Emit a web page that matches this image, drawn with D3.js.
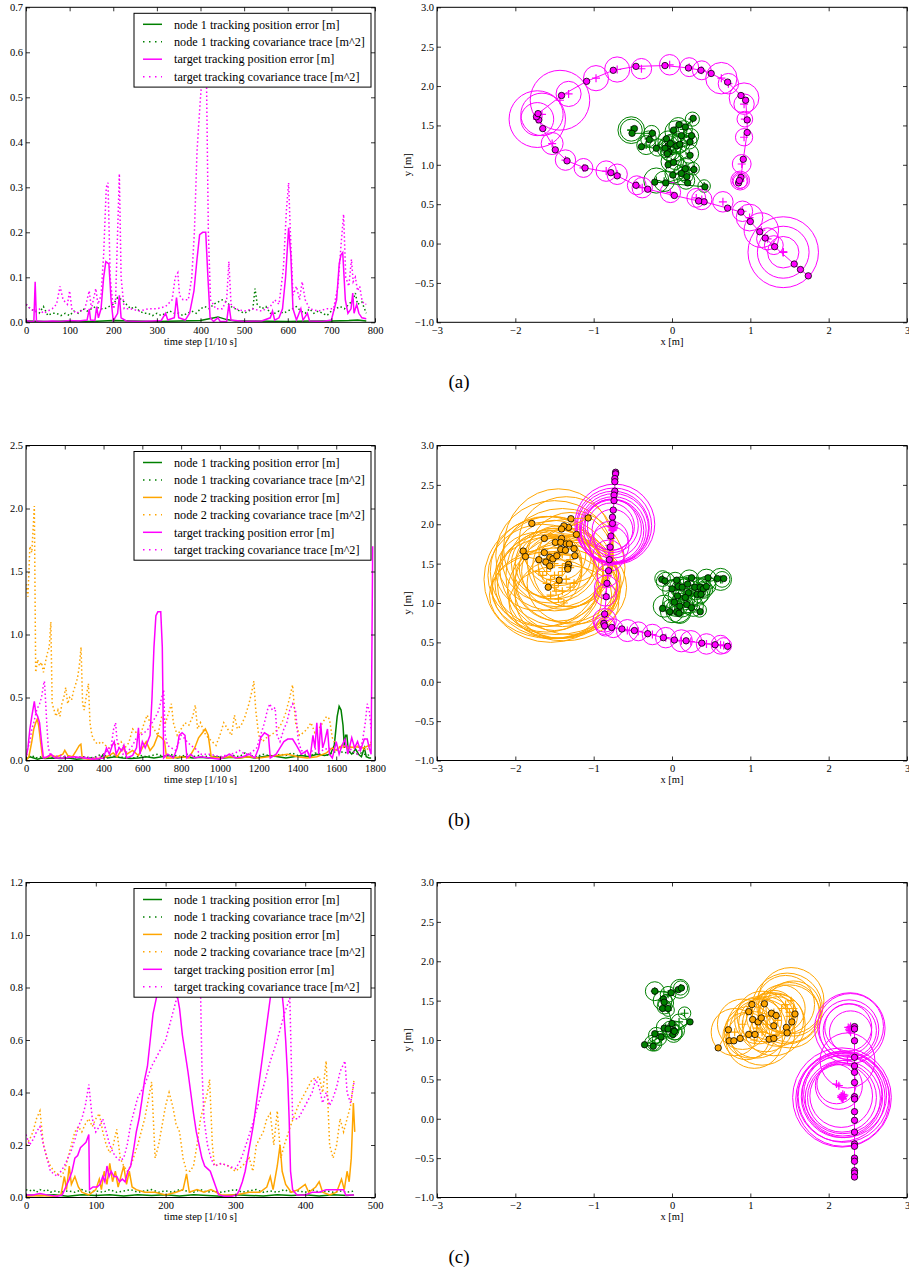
<!DOCTYPE html>
<html>
<head>
<meta charset="utf-8" />
<script src="https://cdn.jsdelivr.net/npm/d3@7/dist/d3.min.js"></script>
<style>
html, body { margin: 0; padding: 0; background: #fff; }
svg { display: block; }
.tick text { font-family: "Liberation Serif", "Times New Roman", serif; font-size: 10.5px; fill: #000; }
.tick line { stroke: #000; stroke-width: 0.8; }
</style>
</head>
<body>
<div id="fig"></div>
<script>
// ---------- time series, [time step, value] ----------
var aNodeErr = [[0,0.003],[50,0.002],[100,0.003],[150,0.002],[200,0.004],[250,0.003],[300,0.002],[350,0.003],[400,0.004],[420,0.008],[440,0.012],[460,0.006],[480,0.003],[520,0.003],[600,0.002],[650,0.003],[700,0.003],[740,0.004],[760,0.005],[780,0.003]];
var aNodeCov = [[0,0.04],[10,0.03],[20,0.025],[30,0.02],[40,0.035],[50,0.015],[60,0.02],[70,0.02],[80,0.015],[90,0.02],[100,0.015],[110,0.025],[120,0.02],[130,0.03],[140,0.025],[150,0.03],[160,0.035],[170,0.03],[180,0.03],[190,0.035],[200,0.04],[210,0.055],[220,0.05],[230,0.04],[240,0.03],[250,0.035],[260,0.025],[270,0.02],[280,0.02],[290,0.015],[300,0.02],[310,0.015],[320,0.02],[330,0.025],[340,0.02],[350,0.02],[360,0.015],[370,0.02],[380,0.025],[390,0.02],[400,0.03],[410,0.035],[420,0.03],[430,0.04],[440,0.045],[450,0.05],[460,0.045],[470,0.035],[480,0.03],[490,0.025],[500,0.02],[510,0.025],[520,0.03],[525,0.075],[530,0.04],[540,0.03],[550,0.035],[560,0.02],[570,0.02],[580,0.025],[590,0.02],[600,0.025],[610,0.03],[620,0.035],[630,0.025],[640,0.02],[650,0.03],[660,0.02],[670,0.025],[680,0.02],[690,0.015],[700,0.025],[710,0.03],[720,0.035],[730,0.03],[740,0.04],[750,0.05],[755,0.065],[760,0.04],[770,0.045],[780,0.02]];
var aTargetErr = [[0,0.004],[10,0.002],[18,0.002],[21,0.09],[24,0.003],[40,0.002],[60,0.003],[80,0.002],[100,0.004],[120,0.003],[140,0.005],[145,0.03],[148,0.005],[158,0.004],[162,0.035],[166,0.01],[172,0.03],[178,0.1],[183,0.135],[190,0.13],[195,0.05],[200,0.003],[210,0.02],[214,0.06],[218,0.01],[230,0.003],[260,0.002],[290,0.003],[310,0.004],[320,0.02],[325,0.005],[340,0.01],[345,0.055],[350,0.01],[365,0.005],[375,0.02],[385,0.07],[392,0.14],[398,0.195],[405,0.2],[412,0.2],[417,0.1],[422,0.01],[430,0.002],[440,0.01],[445,0.002],[460,0.002],[465,0.04],[470,0.005],[500,0.002],[540,0.003],[560,0.01],[565,0.025],[570,0.005],[580,0.01],[588,0.03],[595,0.1],[602,0.21],[607,0.15],[612,0.03],[620,0.005],[630,0.03],[635,0.005],[645,0.02],[650,0.003],[680,0.002],[700,0.005],[712,0.05],[718,0.13],[722,0.15],[726,0.155],[732,0.05],[738,0.02],[745,0.03],[749,0.065],[752,0.02],[758,0.04],[763,0.02],[770,0.01],[780,0.008]];
var aTargetCov = [[0,0.04],[10,0.03],[20,0.025],[30,0.03],[40,0.02],[50,0.025],[60,0.03],[70,0.04],[78,0.08],[85,0.05],[95,0.04],[100,0.07],[105,0.03],[115,0.02],[125,0.025],[135,0.03],[145,0.07],[150,0.03],[160,0.075],[165,0.04],[172,0.06],[178,0.15],[184,0.3],[188,0.31],[193,0.1],[200,0.03],[205,0.04],[210,0.2],[214,0.33],[218,0.1],[225,0.03],[240,0.03],[260,0.025],[280,0.03],[300,0.03],[320,0.035],[335,0.05],[342,0.1],[348,0.11],[352,0.06],[360,0.05],[372,0.05],[380,0.1],[386,0.2],[392,0.38],[400,0.5],[408,0.6],[413,0.6],[418,0.2],[423,0.05],[435,0.03],[450,0.03],[460,0.05],[465,0.135],[470,0.04],[480,0.03],[500,0.025],[520,0.03],[540,0.025],[560,0.035],[570,0.05],[580,0.04],[590,0.12],[597,0.25],[602,0.31],[606,0.2],[612,0.06],[620,0.08],[627,0.05],[633,0.09],[640,0.05],[650,0.03],[670,0.025],[690,0.03],[705,0.03],[715,0.08],[722,0.17],[728,0.24],[733,0.1],[740,0.08],[746,0.14],[750,0.09],[755,0.1],[760,0.07],[765,0.08],[770,0.05],[775,0.04],[780,0.04]];

var bNodeErr = [[0,0.01],[20,0.03],[40,0.02],[60,0.01],[80,0.02],[100,0.015],[140,0.02],[180,0.015],[220,0.02],[260,0.01],[300,0.015],[340,0.02],[380,0.01],[400,0.05],[420,0.02],[460,0.03],[500,0.02],[540,0.015],[580,0.02],[620,0.03],[660,0.02],[700,0.03],[740,0.04],[780,0.02],[820,0.03],[860,0.02],[900,0.025],[940,0.02],[980,0.03],[1020,0.02],[1060,0.025],[1100,0.02],[1140,0.03],[1180,0.02],[1220,0.03],[1260,0.04],[1300,0.03],[1340,0.02],[1380,0.03],[1420,0.04],[1460,0.03],[1500,0.05],[1540,0.04],[1570,0.05],[1590,0.12],[1605,0.35],[1615,0.43],[1625,0.4],[1635,0.28],[1642,0.1],[1648,0.2],[1655,0.2],[1662,0.08],[1680,0.05],[1700,0.09],[1715,0.05],[1730,0.03],[1745,0.1],[1755,0.03],[1770,0.02],[1780,0.02]];
var bNodeCov = [[0,0.05],[15,0.03],[30,0.04],[50,0.02],[70,0.03],[90,0.02],[120,0.03],[150,0.02],[180,0.025],[210,0.03],[240,0.02],[270,0.025],[300,0.03],[330,0.02],[360,0.03],[390,0.05],[410,0.03],[440,0.04],[470,0.03],[500,0.025],[530,0.03],[560,0.02],[590,0.04],[620,0.03],[650,0.04],[680,0.05],[710,0.03],[740,0.05],[770,0.04],[800,0.03],[830,0.05],[860,0.03],[890,0.04],[920,0.03],[950,0.04],[980,0.03],[1010,0.025],[1040,0.03],[1070,0.04],[1100,0.03],[1130,0.06],[1160,0.04],[1190,0.03],[1220,0.05],[1250,0.04],[1280,0.03],[1310,0.05],[1340,0.04],[1370,0.06],[1400,0.04],[1430,0.05],[1460,0.03],[1490,0.06],[1520,0.05],[1550,0.04],[1580,0.06],[1610,0.08],[1640,0.06],[1670,0.07],[1700,0.05],[1730,0.06],[1760,0.04],[1780,0.05]];
var bNode2Err = [[0,0.0],[15,0.03],[30,0.15],[40,0.25],[50,0.3],[58,0.33],[65,0.28],[75,0.15],[85,0.03],[100,0.02],[130,0.04],[160,0.03],[190,0.05],[200,0.08],[215,0.04],[240,0.03],[260,0.08],[275,0.12],[283,0.13],[290,0.02],[320,0.01],[360,0.015],[400,0.02],[430,0.04],[450,0.06],[470,0.03],[500,0.1],[520,0.05],[550,0.08],[580,0.04],[600,0.1],[620,0.15],[640,0.08],[660,0.12],[680,0.2],[700,0.18],[715,0.15],[725,0.02],[760,0.02],[800,0.03],[840,0.02],[870,0.1],[890,0.18],[910,0.22],[925,0.25],[940,0.2],[955,0.03],[1000,0.02],[1050,0.03],[1100,0.02],[1150,0.03],[1200,0.02],[1250,0.03],[1300,0.04],[1350,0.05],[1400,0.03],[1450,0.02],[1500,0.03],[1550,0.06],[1580,0.1],[1600,0.08],[1630,0.12],[1660,0.1],[1700,0.11],[1740,0.1],[1770,0.12],[1780,0.13]];
var bNode2Cov = [[0,1.4],[10,1.3],[20,1.7],[30,1.65],[43,2.02],[50,0.7],[60,0.8],[70,0.75],[80,0.78],[90,0.7],[100,0.78],[110,0.85],[120,0.9],[128,1.1],[135,0.45],[145,0.4],[155,0.35],[165,0.4],[175,0.35],[185,0.45],[195,0.5],[205,0.58],[215,0.45],[225,0.5],[235,0.48],[245,0.55],[255,0.6],[265,0.65],[275,0.75],[284,0.9],[292,0.45],[300,0.4],[310,0.5],[322,0.61],[330,0.3],[340,0.2],[355,0.15],[370,0.13],[390,0.15],[410,0.12],[430,0.1],[450,0.13],[470,0.12],[490,0.15],[510,0.1],[530,0.14],[550,0.25],[570,0.22],[590,0.2],[610,0.3],[625,0.36],[640,0.3],[660,0.25],[680,0.2],[700,0.35],[720,0.3],[740,0.4],[750,0.45],[760,0.3],[780,0.2],[800,0.25],[820,0.3],[840,0.28],[860,0.35],[873,0.44],[885,0.25],[900,0.3],[920,0.22],[940,0.18],[960,0.15],[980,0.12],[1000,0.2],[1020,0.3],[1040,0.25],[1060,0.2],[1075,0.36],[1090,0.25],[1110,0.28],[1130,0.35],[1150,0.45],[1165,0.55],[1175,0.63],[1185,0.4],[1200,0.2],[1220,0.15],[1240,0.18],[1260,0.2],[1280,0.22],[1300,0.25],[1320,0.3],[1340,0.38],[1360,0.5],[1375,0.6],[1390,0.3],[1410,0.2],[1430,0.22],[1450,0.25],[1470,0.3],[1490,0.22],[1510,0.25],[1530,0.3],[1550,0.35],[1565,0.33],[1580,0.18],[1600,0.12],[1630,0.1],[1660,0.12],[1690,0.1],[1720,0.12],[1750,0.08],[1770,0.1],[1780,0.15]];
var bTargetErr = [[0,0.02],[10,0.1],[20,0.25],[30,0.35],[43,0.47],[50,0.38],[60,0.35],[70,0.3],[80,0.15],[90,0.02],[110,0.03],[130,0.05],[150,0.02],[200,0.02],[250,0.03],[300,0.02],[350,0.01],[400,0.02],[415,0.1],[430,0.05],[445,0.12],[455,0.15],[465,0.05],[480,0.1],[495,0.08],[505,0.12],[520,0.02],[550,0.04],[570,0.1],[580,0.26],[588,0.05],[600,0.15],[615,0.1],[630,0.16],[640,0.2],[650,0.5],[660,0.9],[670,1.15],[680,1.18],[695,1.18],[703,0.9],[710,0.02],[730,0.05],[760,0.02],[780,0.1],[790,0.2],[805,0.22],[820,0.2],[830,0.02],[850,0.05],[870,0.02],[900,0.03],[950,0.02],[1000,0.01],[1050,0.05],[1080,0.02],[1120,0.03],[1150,0.05],[1180,0.02],[1200,0.1],[1210,0.18],[1230,0.22],[1250,0.2],[1260,0.02],[1290,0.05],[1310,0.1],[1330,0.15],[1350,0.17],[1375,0.17],[1395,0.12],[1420,0.05],[1450,0.08],[1465,0.02],[1480,0.2],[1490,0.1],[1500,0.3],[1510,0.05],[1520,0.3],[1530,0.1],[1540,0.15],[1555,0.25],[1565,0.05],[1580,0.02],[1600,0.15],[1615,0.05],[1630,0.12],[1645,0.17],[1660,0.05],[1680,0.18],[1695,0.1],[1710,0.15],[1725,0.08],[1745,0.17],[1760,0.17],[1770,0.1],[1780,0.05],[1788,1.7]];
var bTargetCov = [[0,0.05],[10,0.1],[20,0.15],[30,0.25],[40,0.3],[55,0.4],[70,0.45],[80,0.5],[90,0.6],[95,0.63],[100,0.5],[107,0.3],[115,0.1],[125,0.05],[140,0.03],[180,0.04],[220,0.03],[260,0.02],[300,0.03],[340,0.02],[380,0.03],[400,0.05],[420,0.08],[440,0.12],[452,0.25],[462,0.3],[470,0.15],[480,0.1],[500,0.05],[530,0.08],[550,0.12],[570,0.18],[590,0.2],[610,0.22],[630,0.25],[650,0.3],[670,0.35],[685,0.4],[700,0.5],[710,0.56],[718,0.2],[730,0.12],[750,0.1],[770,0.08],[790,0.15],[800,0.2],[815,0.18],[830,0.15],[850,0.12],[870,0.1],[900,0.05],[950,0.05],[1000,0.03],[1050,0.05],[1080,0.06],[1100,0.08],[1130,0.05],[1160,0.06],[1190,0.1],[1210,0.2],[1230,0.3],[1245,0.4],[1258,0.45],[1270,0.4],[1285,0.42],[1295,0.2],[1310,0.15],[1330,0.25],[1345,0.3],[1360,0.4],[1375,0.45],[1390,0.4],[1405,0.15],[1420,0.08],[1450,0.05],[1480,0.08],[1500,0.1],[1530,0.08],[1560,0.1],[1590,0.08],[1620,0.1],[1650,0.12],[1680,0.08],[1710,0.05],[1735,0.15],[1750,0.3],[1760,0.45],[1770,0.4],[1780,0.25]];

var cNodeErr = [[0,0.01],[20,0.008],[40,0.01],[60,0.005],[80,0.01],[100,0.008],[120,0.01],[140,0.006],[160,0.01],[180,0.008],[200,0.01],[220,0.006],[240,0.01],[260,0.008],[280,0.005],[300,0.01],[320,0.008],[340,0.006],[360,0.01],[380,0.008],[400,0.01],[420,0.006],[440,0.01],[460,0.008],[470,0.01]];
var cNodeCov = [[0,0.03],[5,0.025],[10,0.03],[15,0.02],[20,0.03],[25,0.025],[30,0.03],[35,0.02],[40,0.025],[50,0.02],[60,0.025],[70,0.02],[80,0.03],[90,0.02],[100,0.025],[110,0.02],[120,0.03],[130,0.02],[140,0.025],[150,0.03],[160,0.02],[170,0.025],[180,0.03],[190,0.02],[200,0.025],[210,0.02],[220,0.03],[230,0.025],[240,0.02],[250,0.03],[260,0.02],[270,0.025],[280,0.02],[290,0.025],[300,0.03],[310,0.02],[320,0.025],[330,0.03],[340,0.02],[350,0.025],[360,0.02],[370,0.03],[380,0.02],[390,0.025],[400,0.02],[410,0.03],[420,0.02],[430,0.025],[440,0.02],[450,0.025],[460,0.02],[470,0.025]];
var cNode2Err = [[0,0.005],[20,0.008],[40,0.005],[50,0.01],[55,0.08],[58,0.03],[62,0.12],[65,0.05],[70,0.08],[75,0.04],[80,0.02],[90,0.01],[100,0.03],[105,0.07],[108,0.03],[112,0.1],[116,0.05],[120,0.13],[124,0.06],[128,0.1],[132,0.04],[136,0.08],[140,0.12],[144,0.05],[148,0.1],[152,0.04],[158,0.03],[170,0.02],[185,0.02],[200,0.01],[215,0.02],[225,0.03],[230,0.09],[234,0.02],[245,0.03],[255,0.02],[265,0.03],[280,0.01],[300,0.01],[320,0.02],[335,0.02],[345,0.04],[350,0.08],[354,0.03],[360,0.12],[364,0.2],[367,0.1],[372,0.05],[380,0.02],[390,0.03],[400,0.05],[405,0.02],[415,0.04],[420,0.06],[425,0.02],[435,0.01],[445,0.02],[452,0.07],[456,0.03],[460,0.1],[463,0.06],[466,0.15],[469,0.36],[471,0.25]];
var cNode2Cov = [[0,0.2],[5,0.22],[10,0.25],[15,0.3],[20,0.33],[25,0.2],[30,0.15],[35,0.12],[40,0.1],[45,0.09],[50,0.08],[55,0.1],[60,0.15],[65,0.2],[70,0.25],[75,0.27],[80,0.25],[85,0.28],[90,0.3],[95,0.27],[100,0.3],[105,0.32],[110,0.25],[115,0.2],[120,0.17],[125,0.2],[130,0.26],[135,0.15],[140,0.12],[145,0.1],[150,0.12],[160,0.2],[170,0.3],[180,0.44],[185,0.15],[190,0.2],[200,0.35],[205,0.4],[210,0.35],[215,0.28],[220,0.25],[225,0.15],[230,0.1],[235,0.1],[240,0.12],[245,0.2],[250,0.3],[255,0.35],[260,0.4],[263,0.45],[267,0.2],[270,0.12],[280,0.13],[290,0.12],[300,0.1],[310,0.12],[320,0.15],[325,0.1],[330,0.2],[340,0.25],[345,0.3],[350,0.32],[355,0.2],[360,0.33],[365,0.15],[370,0.2],[380,0.28],[390,0.35],[400,0.4],[410,0.45],[420,0.46],[425,0.4],[430,0.52],[435,0.2],[440,0.15],[445,0.2],[450,0.3],[455,0.25],[460,0.3],[465,0.35],[470,0.45]];
var cTargetErr = [[0,0.01],[10,0.01],[20,0.015],[30,0.01],[45,0.005],[52,0.01],[57,0.04],[62,0.07],[66,0.1],[70,0.15],[74,0.16],[78,0.19],[82,0.2],[86,0.21],[90,0.24],[91,0.03],[96,0.04],[102,0.04],[106,0.05],[110,0.08],[113,0.06],[116,0.12],[119,0.08],[122,0.1],[126,0.08],[130,0.08],[134,0.06],[138,0.07],[142,0.06],[146,0.1],[150,0.12],[154,0.18],[158,0.25],[162,0.3],[166,0.37],[170,0.45],[174,0.5],[178,0.6],[182,0.7],[186,0.75],[190,0.8],[195,0.9],[205,0.92],[212,0.85],[216,0.78],[220,0.72],[224,0.62],[228,0.55],[232,0.48],[236,0.4],[240,0.32],[244,0.25],[248,0.2],[252,0.15],[256,0.12],[260,0.11],[264,0.1],[268,0.07],[272,0.04],[276,0.01],[285,0.005],[295,0.005],[302,0.01],[306,0.03],[310,0.06],[314,0.1],[318,0.16],[322,0.22],[326,0.28],[330,0.36],[334,0.44],[338,0.52],[342,0.6],[346,0.68],[350,0.76],[354,0.85],[362,0.88],[366,0.8],[369,0.72],[372,0.6],[375,0.45],[377,0.3],[379,0.1],[382,0.03],[388,0.01],[400,0.01],[410,0.02],[420,0.02],[430,0.03],[440,0.03],[450,0.03],[455,0.03],[458,0.01],[465,0.01],[470,0.01]];
var cTargetCov = [[0,0.24],[5,0.2],[10,0.22],[15,0.25],[20,0.27],[25,0.2],[30,0.15],[35,0.1],[40,0.09],[45,0.08],[50,0.1],[55,0.12],[60,0.15],[65,0.18],[70,0.22],[75,0.27],[80,0.3],[85,0.35],[90,0.43],[95,0.3],[100,0.25],[105,0.27],[110,0.3],[115,0.25],[120,0.2],[125,0.17],[130,0.15],[135,0.14],[140,0.15],[145,0.2],[150,0.28],[160,0.38],[170,0.43],[180,0.5],[190,0.55],[200,0.6],[210,0.7],[216,0.76],[225,0.85],[245,0.9],[250,0.8],[252,0.5],[255,0.3],[260,0.2],[265,0.15],[270,0.12],[280,0.13],[290,0.12],[300,0.11],[305,0.13],[310,0.16],[320,0.24],[330,0.33],[340,0.42],[350,0.52],[360,0.6],[370,0.7],[378,0.76],[382,0.3],[390,0.3],[400,0.35],[410,0.4],[415,0.45],[420,0.42],[425,0.36],[430,0.4],[435,0.35],[440,0.38],[445,0.42],[450,0.48],[457,0.52],[460,0.4],[465,0.36],[470,0.44]];

// ---------- map records: [true x, true y, estimate x, estimate y, radius (or rx, ry)] ----------
var aTargetMap = [[1.74,-0.41,1.42,-0.11,0.45],[1.64,-0.33,1.42,-0.11,0.33],[1.56,-0.26,1.42,-0.11,0.20],[1.31,-0.04,1.30,-0.02,0.12],[1.19,0.07,1.22,0.06,0.14],[1.12,0.15,1.14,0.17,0.22],[1.00,0.28,0.99,0.33,0.17],[0.88,0.40,0.90,0.41,0.13],[0.71,0.45,0.65,0.53,0.13],[0.41,0.53,0.38,0.56,0.13],[0.34,0.54,0.31,0.58,0.12],[0.03,0.61,-0.02,0.65,0.13],[-0.31,0.69,-0.38,0.71,0.13],[-0.46,0.74,-0.45,0.74,0.12],[-0.70,0.86,-0.70,0.88,0.13],[-0.78,0.90,-0.84,0.92,0.13],[-1.11,0.96,-1.13,0.96,0.12],[-1.34,1.05,-1.36,1.06,0.13],[-1.49,1.19,-1.53,1.27,0.14],[-1.65,1.46,-1.72,1.58,0.36],[-1.70,1.57,-1.72,1.58,0.21],[-1.73,1.61,-1.66,1.64,0.27],[-1.71,1.65,-1.43,1.82,0.38],[-1.41,1.88,-1.32,1.90,0.16],[-1.09,2.06,-0.97,2.10,0.16],[-0.75,2.20,-0.70,2.21,0.16],[-0.46,2.25,-0.39,2.22,0.13],[-0.09,2.26,-0.03,2.27,0.13],[0.21,2.23,0.22,2.24,0.12],[0.37,2.20,0.38,2.20,0.12],[0.50,2.16,0.63,2.10,0.20],[0.71,2.05,0.72,2.03,0.13],[0.88,1.88,0.92,1.85,0.19],[0.94,1.82,0.92,1.77,0.13],[0.96,1.57,0.93,1.58,0.10],[0.96,1.41,0.92,1.35,0.11],[0.91,1.07,0.89,1.01,0.12],[0.88,0.84,0.87,0.80,0.12],[0.85,0.77,0.87,0.80,0.10],[0.86,0.80,0.87,0.79,0.09]];
var aNodeMap = [[-0.48,1.46,-0.52,1.44,0.17],[-0.51,1.40,-0.52,1.44,0.14],[-0.25,1.40,-0.26,1.40,0.10],[-0.29,1.32,-0.30,1.33,0.10],[-0.39,1.23,-0.33,1.25,0.12],[-0.20,1.21,-0.18,1.22,0.11],[-0.07,1.33,-0.05,1.30,0.13],[-0.05,1.24,-0.04,1.25,0.12],[-0.04,1.16,-0.02,1.18,0.13],[0.02,1.44,0.05,1.42,0.14],[0.09,1.51,0.08,1.48,0.12],[0.17,1.48,0.15,1.45,0.11],[0.27,1.59,0.26,1.58,0.09],[0.12,1.37,0.14,1.36,0.13],[0.25,1.37,0.24,1.36,0.10],[0.23,1.29,0.22,1.30,0.10],[0.06,1.24,0.08,1.25,0.11],[0.23,1.12,0.22,1.14,0.12],[-0.05,1.00,-0.01,1.04,0.13],[0.02,1.03,0.04,1.05,0.11],[0.17,0.95,0.18,0.97,0.11],[0.28,0.94,0.27,0.95,0.08],[0.01,0.87,0.03,0.89,0.12],[0.12,0.89,0.12,0.90,0.10],[0.20,0.77,0.18,0.80,0.11],[0.19,0.85,0.18,0.86,0.09],[-0.08,0.77,-0.10,0.79,0.13],[-0.22,0.78,-0.20,0.80,0.16],[0.42,0.72,0.41,0.73,0.08],[-0.02,1.27,0.00,1.26,0.13],[-0.09,1.21,-0.07,1.21,0.12],[-0.06,1.14,-0.04,1.15,0.10],[0.10,1.26,0.11,1.28,0.12]];

var bTargetMap = [[-0.72,2.66,-0.73,2.00,0.51],[-0.72,2.64,-0.74,1.98,0.48],[-0.73,2.58,-0.75,1.96,0.46],[-0.73,2.54,-0.74,1.95,0.44],[-0.73,2.42,-0.75,1.93,0.42],[-0.74,2.37,-0.76,1.92,0.40],[-0.74,2.30,-0.76,1.94,0.37],[-0.75,2.18,-0.77,1.98,0.34],[-0.76,2.09,-0.78,1.97,0.30],[-0.76,2.01,-0.76,1.93,0.26],[-0.78,1.85,-0.78,1.82,0.22],[-0.79,1.71,-0.80,1.73,0.25],[-0.80,1.55,-0.81,1.60,0.20],[-0.81,1.41,-0.82,1.35,0.14],[-0.83,1.25,-0.84,1.20,0.15],[-0.84,1.08,-0.85,1.10,0.14],[-0.86,0.86,-0.86,0.78,0.15],[-0.87,0.74,-0.86,0.73,0.13],[-0.86,0.71,-0.85,0.70,0.12],[-0.77,0.69,-0.75,0.68,0.12],[-0.64,0.67,-0.57,0.65,0.14],[-0.48,0.65,-0.43,0.64,0.12],[-0.31,0.61,-0.25,0.60,0.13],[-0.11,0.56,-0.08,0.56,0.13],[0.03,0.53,0.12,0.52,0.14],[0.18,0.52,0.24,0.51,0.14],[0.38,0.49,0.44,0.48,0.13],[0.55,0.47,0.62,0.47,0.12],[0.71,0.45,0.66,0.46,0.10]];
var bNodeMap = [[-0.13,1.30,-0.12,1.31,0.10],[-0.09,1.28,-0.08,1.27,0.12],[0.06,1.29,0.04,1.28,0.11],[0.25,1.32,0.22,1.30,0.12],[0.46,1.32,0.44,1.30,0.13],[0.58,1.31,0.62,1.30,0.14],[0.66,1.31,0.64,1.30,0.10],[0.00,1.18,0.02,1.16,0.14],[0.08,1.21,0.10,1.20,0.13],[0.13,1.20,0.15,1.18,0.15],[0.20,1.24,0.22,1.22,0.13],[0.29,1.20,0.30,1.18,0.14],[0.36,1.20,0.38,1.19,0.12],[0.40,1.18,0.41,1.17,0.11],[0.44,1.21,0.44,1.22,0.12],[0.21,1.13,0.24,1.12,0.16],[0.32,1.11,0.33,1.10,0.13],[0.37,1.11,0.36,1.12,0.12],[0.07,1.09,0.10,1.08,0.15],[0.17,1.07,0.15,1.05,0.14],[0.03,1.01,0.05,1.00,0.17],[0.10,0.96,0.12,0.97,0.15],[0.19,0.98,0.20,0.99,0.13],[-0.12,0.93,-0.10,0.96,0.14],[-0.03,0.89,0.00,0.90,0.15],[0.06,0.89,0.08,0.91,0.16],[0.09,0.87,0.10,0.88,0.14],[0.36,0.89,0.35,0.91,0.09],[0.25,0.94,0.27,0.96,0.13]];
var bNode2Map = [[-1.79,2.01,-1.55,1.55,0.62,0.55],[-1.29,2.07,-1.45,1.70,0.70,0.75],[-1.07,2.08,-1.35,1.80,0.60,0.55],[-1.32,1.96,-1.50,1.60,0.75,0.70],[-1.38,1.98,-1.40,1.45,0.80,0.75],[-1.41,1.94,-1.60,1.40,0.72,0.70],[-1.22,1.87,-1.30,1.55,0.55,0.60],[-1.63,1.82,-1.65,1.35,0.70,0.65],[-1.41,1.82,-1.55,1.30,0.85,0.80],[-1.49,1.77,-1.45,1.25,0.78,0.70],[-1.42,1.77,-1.50,1.20,0.80,0.65],[-1.35,1.75,-1.40,1.15,0.70,0.60],[-1.31,1.75,-1.55,1.10,0.78,0.55],[-1.25,1.69,-1.35,1.30,0.65,0.55],[-1.42,1.68,-1.50,1.50,0.50,0.45],[-1.36,1.67,-1.45,1.35,0.58,0.58],[-1.63,1.64,-1.60,1.25,0.66,0.62],[-1.24,1.60,-1.30,1.45,0.48,0.50],[-1.90,1.66,-1.60,1.50,0.45,0.42],[-1.87,1.59,-1.70,1.40,0.55,0.50],[-1.70,1.55,-1.50,1.35,0.62,0.70],[-1.56,1.58,-1.40,1.40,0.52,0.48],[-1.52,1.56,-1.55,1.45,0.40,0.40],[-1.61,1.52,-1.45,1.60,0.42,0.38],[-1.56,1.47,-1.35,1.50,0.36,0.35],[-1.47,1.60,-1.40,1.62,0.30,0.32],[-1.32,1.49,-1.30,1.20,0.72,0.60],[-1.33,1.45,-1.25,1.25,0.60,0.52],[-1.33,1.43,-1.48,1.15,0.82,0.55],[-1.44,1.29,-1.38,1.00,0.70,0.48],[-1.58,1.20,-1.45,1.05,0.55,0.50]];

var cTargetMap = [[2.33,1.17,2.27,1.15,0.45],[2.33,1.14,2.28,1.17,0.42],[2.33,0.99,2.26,1.13,0.38],[2.33,0.78,2.27,1.12,0.34],[2.33,0.67,2.25,1.16,0.30],[2.33,0.59,2.28,1.10,0.27],[2.33,0.46,2.24,0.74,0.35],[2.33,0.28,2.10,0.44,0.25],[2.33,0.25,2.13,0.42,0.30],[2.33,0.09,2.16,0.29,0.40],[2.33,-0.02,2.17,0.27,0.44],[2.33,-0.17,2.18,0.26,0.48],[2.33,-0.32,2.17,0.28,0.52],[2.33,-0.35,2.16,0.27,0.56],[2.33,-0.50,2.18,0.25,0.60],[2.33,-0.54,2.17,0.27,0.63],[2.33,-0.66,2.19,0.28,0.58],[2.33,-0.69,2.20,0.30,0.54],[2.33,-0.74,2.18,0.31,0.50]];
var cNodeMap = [[-0.22,1.62,-0.22,1.62,0.12],[-0.01,1.60,-0.05,1.58,0.10],[0.08,1.64,0.10,1.65,0.12],[0.12,1.66,0.11,1.66,0.09],[-0.11,1.52,-0.12,1.50,0.12],[-0.10,1.48,-0.08,1.47,0.10],[-0.12,1.40,-0.10,1.42,0.09],[-0.05,1.40,-0.05,1.38,0.08],[0.00,1.21,0.09,1.23,0.10],[-0.10,1.15,-0.08,1.16,0.12],[-0.05,1.14,-0.02,1.13,0.11],[0.02,1.12,0.03,1.10,0.10],[0.01,1.07,0.02,1.08,0.11],[-0.22,1.08,-0.20,1.06,0.10],[-0.14,1.04,-0.16,1.02,0.09],[-0.35,0.94,-0.25,0.96,0.10],[-0.24,0.92,-0.22,0.95,0.09],[0.23,1.23,0.16,1.34,0.08],[0.03,1.11,0.04,1.12,0.12]];
var cNode2Map = [[0.59,0.90,0.80,1.10,0.30],[0.72,1.13,0.90,1.20,0.32],[0.73,0.99,0.95,1.05,0.30],[0.79,0.99,1.00,1.10,0.33],[0.87,1.02,1.05,1.00,0.36],[0.98,1.36,1.10,1.25,0.30],[1.02,1.45,1.15,1.30,0.32],[1.03,1.26,1.20,1.20,0.35],[0.98,1.07,1.08,1.15,0.38],[1.06,1.07,1.25,1.30,0.30],[1.10,1.23,1.30,1.35,0.28],[1.14,1.28,1.35,1.25,0.33],[1.18,1.46,1.40,1.40,0.30],[1.27,1.34,1.45,1.45,0.37],[1.33,1.31,1.35,1.30,0.25],[1.30,1.18,1.30,1.20,0.40],[1.24,1.01,1.15,1.10,0.42],[1.30,1.02,1.50,1.30,0.40],[1.46,1.16,1.52,1.50,0.42],[1.47,1.09,1.55,1.40,0.35],[1.53,1.23,1.50,1.35,0.38],[1.57,1.33,1.47,1.40,0.45]];

// ---------- labels ----------
var legendNames = ["node 1 tracking position error [m]", "node 1 tracking covariance trace [m^2]",
	"node 2 tracking position error [m]", "node 2 tracking covariance trace [m^2]",
	"target tracking position error [m]", "target tracking covariance trace [m^2]"];
var captions = ["(a)", "(b)", "(c)"];
var timeMax = [800, 1800, 500];
var timeStep = [100, 200, 100];
var errMax = [0.7, 2.5, 1.2];
var errStep = [0.1, 0.5, 0.2];

var GREEN = "#008000", ORANGE = "#ffa500", MAGENTA = "#ff00ff";
var FONT = '"Liberation Serif", "Times New Roman", serif';

var W = 909, H = 1273;
var svg = d3.select("#fig").append("svg").attr("width", W).attr("height", H);
svg.append("rect").attr("width", W).attr("height", H).attr("fill", "#fff");

var rowTop = [7.3, 445.5, 882.5];
var plotH = 315;
var left = { x0: 26, x1: 375 };
var right = { x0: 437, x1: 907 };

var rows = [
	{ series: [[aNodeErr, GREEN, 0], [aNodeCov, GREEN, 1], [aTargetErr, MAGENTA, 0], [aTargetCov, MAGENTA, 1]],
	  legend: [0, 1, 4, 5],
	  maps: [[aNodeMap, GREEN], [aTargetMap, MAGENTA]] },
	{ series: [[bNodeErr, GREEN, 0], [bNodeCov, GREEN, 1], [bNode2Err, ORANGE, 0], [bNode2Cov, ORANGE, 1], [bTargetErr, MAGENTA, 0], [bTargetCov, MAGENTA, 1]],
	  legend: [0, 1, 2, 3, 4, 5],
	  maps: [[bNode2Map, ORANGE], [bNodeMap, GREEN], [bTargetMap, MAGENTA]] },
	{ series: [[cNodeErr, GREEN, 0], [cNodeCov, GREEN, 1], [cNode2Err, ORANGE, 0], [cNode2Cov, ORANGE, 1], [cTargetErr, MAGENTA, 0], [cTargetCov, MAGENTA, 1]],
	  legend: [0, 1, 2, 3, 4, 5],
	  maps: [[cNodeMap, GREEN], [cNode2Map, ORANGE], [cTargetMap, MAGENTA]] }
];

function legendColor(i) { return i < 2 ? GREEN : (i < 4 ? ORANGE : MAGENTA); }

// frame with inward ticks on all four sides
function frame(g, x, y, xFmt, yFmt, xTicks, yTicks, top, bottom, x0, x1) {
	g.append("g").attr("transform", "translate(0," + bottom + ")")
		.call(d3.axisBottom(x).tickValues(xTicks).tickFormat(xFmt).tickSizeInner(-4).tickSizeOuter(0).tickPadding(4))
		.call(function(s) { s.select(".domain").remove(); });
	g.append("g").attr("transform", "translate(0," + top + ")")
		.call(d3.axisTop(x).tickValues(xTicks).tickFormat("").tickSizeInner(-4).tickSizeOuter(0))
		.call(function(s) { s.select(".domain").remove(); });
	g.append("g").attr("transform", "translate(" + x0 + ",0)")
		.call(d3.axisLeft(y).tickValues(yTicks).tickFormat(yFmt).tickSizeInner(-4).tickSizeOuter(0).tickPadding(3))
		.call(function(s) { s.select(".domain").remove(); });
	g.append("g").attr("transform", "translate(" + x1 + ",0)")
		.call(d3.axisRight(y).tickValues(yTicks).tickFormat("").tickSizeInner(-4).tickSizeOuter(0))
		.call(function(s) { s.select(".domain").remove(); });
	g.selectAll("g").attr("font-family", FONT);
	g.append("rect").attr("x", x0).attr("y", top).attr("width", x1 - x0).attr("height", bottom - top)
		.attr("fill", "none").attr("stroke", "#000").attr("stroke-width", 1);
}

rows.forEach(function(row, k) {
	var top = rowTop[k], bottom = top + plotH;

	// ---- left: errors over time ----
	var gl = svg.append("g");
	var x = d3.scaleLinear().domain([0, timeMax[k]]).range([left.x0, left.x1]);
	var y = d3.scaleLinear().domain([0, errMax[k]]).range([bottom, top]);
	gl.append("clipPath").attr("id", "cl" + k).append("rect")
		.attr("x", left.x0).attr("y", top).attr("width", left.x1 - left.x0).attr("height", plotH);
	var line = d3.line().x(function(d) { return x(d[0]); }).y(function(d) { return y(d[1]); });
	var lines = gl.append("g").attr("clip-path", "url(#cl" + k + ")");
	row.series.forEach(function(s) {
		lines.append("path").datum(s[0]).attr("d", line)
			.attr("fill", "none").attr("stroke", s[1]).attr("stroke-width", 1.5)
			.attr("stroke-dasharray", s[2] ? "1.5,2.5" : null);
	});
	var xt = d3.range(0, timeMax[k] + 1, timeStep[k]);
	var yt = d3.range(0, errMax[k] + 1e-9, errStep[k]);
	frame(gl, x, y, d3.format("d"), d3.format(".1f"), xt, yt, top, bottom, left.x0, left.x1);
	gl.append("text").attr("x", (left.x0 + left.x1) / 2).attr("y", bottom + 19).attr("dy", "0.35em")
		.attr("text-anchor", "middle").attr("font-family", FONT).attr("font-size", 10.5).text("time step [1/10 s]");

	// legend
	var n = row.legend.length, lx0 = 134, lx1 = 371, ly0 = top + 6;
	var lg = gl.append("g");
	lg.append("rect").attr("x", lx0).attr("y", ly0).attr("width", lx1 - lx0).attr("height", n * 17.45 + 4)
		.attr("fill", "#fff").attr("stroke", "#000").attr("stroke-width", 1);
	row.legend.forEach(function(li, j) {
		var yy = ly0 + 11 + j * 17.45;
		lg.append("line").attr("x1", 143).attr("x2", 162).attr("y1", yy).attr("y2", yy)
			.attr("stroke", legendColor(li)).attr("stroke-width", 1.5)
			.attr("stroke-dasharray", li % 2 ? "1.5,4.5" : null);
		lg.append("text").attr("x", 174).attr("y", yy).attr("dy", "0.35em")
			.attr("font-family", FONT).attr("font-size", 12.2).text(legendNames[li]);
	});

	// ---- right: positions on the floor ----
	var gr = svg.append("g");
	var mx = d3.scaleLinear().domain([-3, 3]).range([right.x0, right.x1]);
	var my = d3.scaleLinear().domain([-1, 3]).range([bottom, top]);
	gr.append("clipPath").attr("id", "cr" + k).append("rect")
		.attr("x", right.x0).attr("y", top).attr("width", right.x1 - right.x0).attr("height", plotH);
	var marks = gr.append("g").attr("clip-path", "url(#cr" + k + ")");
	var path = d3.line().x(function(d) { return mx(d[0]); }).y(function(d) { return my(d[1]); });
	row.maps.forEach(function(m) {
		var recs = m[0], col = m[1];
		marks.append("g").selectAll("ellipse").data(recs).join("ellipse")
			.attr("cx", function(d) { return mx(d[2]); })
			.attr("cy", function(d) { return my(d[3]); })
			.attr("rx", function(d) { return mx(d[2] + d[4]) - mx(d[2]); })
			.attr("ry", function(d) { return my(d[3]) - my(d[3] + (d.length > 5 ? d[5] : d[4])); })
			.attr("fill", "none").attr("stroke", col).attr("stroke-width", 1);
	});
	row.maps.forEach(function(m) {
		var recs = m[0], col = m[1];
		marks.append("path").datum(recs).attr("d", path)
			.attr("fill", "none").attr("stroke", col).attr("stroke-width", 1);
		marks.append("g").selectAll("path").data(recs).join("path")
			.attr("d", function(d) { var px = mx(d[2]), py = my(d[3]);
				return "M" + (px - 4) + "," + py + "H" + (px + 4) + "M" + px + "," + (py - 4) + "V" + (py + 4); })
			.attr("stroke", col).attr("stroke-width", 1.2);
		marks.append("g").selectAll("circle").data(recs).join("circle")
			.attr("cx", function(d) { return mx(d[0]); })
			.attr("cy", function(d) { return my(d[1]); })
			.attr("r", 3.2)
			.attr("fill", col).attr("stroke", "#000").attr("stroke-width", 0.8);
	});
	frame(gr, mx, my, d3.format("d"), d3.format(".1f"), d3.range(-3, 4, 1), d3.range(-1, 3.01, 0.5), top, bottom, right.x0, right.x1);
	gr.append("text").attr("x", (right.x0 + right.x1) / 2).attr("y", bottom + 19).attr("dy", "0.35em")
		.attr("text-anchor", "middle").attr("font-family", FONT).attr("font-size", 10.5).text("x [m]");
	gr.append("text").attr("transform", "translate(407," + (top + plotH / 2) + ") rotate(-90)")
		.attr("dy", "0.35em").attr("text-anchor", "middle").attr("font-family", FONT).attr("font-size", 10.5).text("y [m]");

	svg.append("text").attr("x", 459).attr("y", bottom + 59).attr("dy", "0.35em")
		.attr("text-anchor", "middle").attr("font-family", FONT).attr("font-size", 19).text(captions[k]);
});
</script>
</body>
</html>
